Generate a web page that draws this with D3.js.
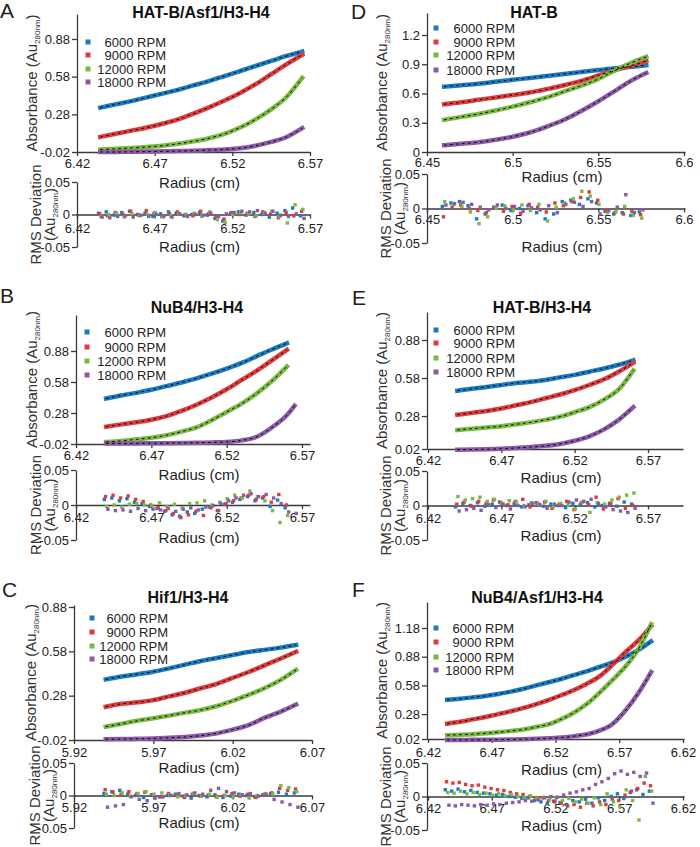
<!DOCTYPE html>
<html>
<head>
<meta charset="utf-8">
<script src="https://cdn.jsdelivr.net/npm/d3@7"></script>
<style>
body{margin:0;background:#fff;}
svg{display:block;font-family:"Liberation Sans",Arial,sans-serif;}
</style>
</head>
<body>
<div id="chart"></div>
<script>
const speeds = ["6000 RPM", "9000 RPM", "12000 RPM", "18000 RPM"]
const colors = ["#1b7bc0", "#de3c3c", "#79b943", "#8b5aa7"]
const residTicks = [-0.05, 0, 0.05]

// A  HAT-B/Asf1/H3-H4
const radiusA = [6.435,6.445,6.455,6.465,6.475,6.485,6.495,6.505,6.515,6.525,6.535,6.545,6.555,6.565]
const absA_6000 = [0.333,0.36,0.385,0.415,0.445,0.475,0.51,0.545,0.585,0.625,0.665,0.705,0.745,0.78]
const absA_9000 = [0.10,0.125,0.15,0.175,0.205,0.24,0.285,0.335,0.39,0.45,0.52,0.60,0.68,0.755]
const absA_12000 = [0.0,0.005,0.012,0.02,0.03,0.045,0.065,0.09,0.125,0.175,0.24,0.32,0.42,0.57]
const absA_18000 = [-0.02,-0.02,-0.018,-0.017,-0.015,-0.013,-0.01,-0.005,0.0,0.01,0.03,0.06,0.10,0.17]
const residRadiusA = [6.435,6.44,6.445,6.45,6.455,6.46,6.465,6.47,6.475,6.48,6.485,6.49,6.495,6.5,6.505,6.51,6.515,6.52,6.525,6.53,6.535,6.54,6.545,6.55,6.555,6.56,6.565]
// residuals in 1e-3 Au
const resA_6000 = [2,4,-1,3,5,0,2,-3,1,4,2,-2,0,3,-1,-6,-10,2,4,-1,3,0,-4,2,6,10,-2]
const resA_9000 = [1,-2,3,0,5,-1,6,2,-3,1,4,0,-2,5,1,-4,-7,3,0,2,-3,4,1,-5,3,-2,5]
const resA_12000 = [-3,0,2,-4,1,-2,0,3,-4,-2,1,0,2,-3,4,-8,-12,0,3,1,-2,2,5,-3,-13,15,8]
const resA_18000 = [-4,-5,-3,-2,-4,-1,-3,0,-2,-4,1,-3,0,-1,2,-3,1,3,5,4,6,2,5,-1,-3,1,-6]
const xTicksA = [6.42,6.47,6.52,6.57]
const yTicksA = [-0.02,0.28,0.58,0.88]

// B  NuB4/H3-H4
const radiusB = [6.44,6.45,6.46,6.47,6.48,6.49,6.5,6.51,6.52,6.53,6.54,6.55,6.56,6.565]
const absB_6000 = [0.42,0.45,0.475,0.505,0.54,0.575,0.615,0.66,0.71,0.765,0.83,0.895,0.955,null]
const absB_9000 = [0.148,0.17,0.19,0.215,0.25,0.30,0.36,0.43,0.51,0.60,0.69,0.79,0.89,null]
const absB_12000 = [0.0,0.01,0.025,0.04,0.065,0.10,0.14,0.21,0.29,0.37,0.47,0.59,0.73,null]
const absB_18000 = [-0.015,-0.015,-0.014,-0.013,-0.012,-0.01,-0.008,-0.005,0.0,0.015,0.05,0.14,0.26,0.35]
const residRadiusB = [6.44,6.445,6.45,6.455,6.46,6.465,6.47,6.475,6.48,6.485,6.49,6.495,6.5,6.505,6.51,6.515,6.52,6.525,6.53,6.535,6.54,6.545,6.55,6.555,6.56,6.565]
const resB_6000 = [8,10,6,9,4,2,-2,-5,-9,-14,-16,-10,-12,-6,-3,-8,1,4,8,12,6,10,-2,7,-4,null]
const resB_9000 = [12,14,10,13,8,5,0,-4,-8,-12,-18,-14,-9,-15,-4,-8,2,6,10,14,8,12,4,15,0,null]
const resB_12000 = [-2,0,-3,1,2,0,-1,3,-2,1,-4,2,3,6,0,4,9,14,10,20,12,6,-8,-25,-15,null]
const resB_18000 = [-6,-8,-7,-9,-5,-8,-6,-7,-5,-9,-6,-4,-7,-3,-1,2,6,10,14,16,12,15,10,2,-10,-12]
const xTicksB = [6.42,6.47,6.52,6.57]
const yTicksB = [-0.02,0.28,0.58,0.88]

// C  Hif1/H3-H4
const radiusC = [5.94,5.95,5.96,5.97,5.98,5.99,6.0,6.01,6.02,6.03,6.04,6.05,6.06]
const absC_6000 = [0.39,0.41,0.425,0.442,0.465,0.49,0.515,0.535,0.555,0.575,0.59,0.605,0.623]
const absC_9000 = [0.205,0.225,0.235,0.25,0.275,0.30,0.33,0.36,0.40,0.44,0.485,0.53,0.577]
const absC_12000 = [0.07,0.09,0.11,0.127,0.145,0.165,0.183,0.21,0.245,0.285,0.33,0.385,0.454]
const absC_18000 = [-0.015,-0.014,-0.012,-0.01,-0.005,0.0,0.01,0.025,0.05,0.08,0.13,0.17,0.22]
const residRadiusC = [5.94,5.945,5.95,5.955,5.96,5.965,5.97,5.975,5.98,5.985,5.99,5.995,6.0,6.005,6.01,6.015,6.02,6.025,6.03,6.035,6.04,6.045,6.05,6.055,6.06]
const resC_6000 = [3,6,8,2,0,-3,1,-2,0,2,-1,-4,0,-2,1,-3,-1,2,0,-2,1,3,5,2,4]
const resC_9000 = [9,5,2,6,3,5,1,-2,3,0,-3,2,-1,1,-2,0,3,-1,2,-3,1,4,11,8,10]
const resC_12000 = [2,0,4,-1,3,6,2,4,1,-2,0,3,-1,2,-3,0,-2,1,-4,0,3,2,15,12,6]
const resC_18000 = [-18,-16,-14,-2,-6,-8,-4,-2,0,3,1,4,2,8,11,6,4,1,3,-1,2,-6,-10,-14,-18]
const xTicksC = [5.92,5.97,6.02,6.07]
const yTicksC = [-0.02,0.28,0.58,0.88]

// D  HAT-B
const radiusD = [6.46,6.47,6.48,6.49,6.5,6.51,6.52,6.53,6.54,6.55,6.56,6.57,6.578]
const absD_6000 = [0.67,0.685,0.70,0.72,0.74,0.76,0.78,0.80,0.82,0.84,0.86,0.875,0.89]
const absD_9000 = [0.49,0.51,0.535,0.56,0.585,0.61,0.645,0.685,0.73,0.785,0.84,0.89,0.935]
const absD_12000 = [0.33,0.36,0.39,0.425,0.465,0.51,0.56,0.62,0.68,0.75,0.84,0.92,0.975]
const absD_18000 = [0.07,0.085,0.10,0.125,0.157,0.20,0.26,0.33,0.42,0.52,0.63,0.74,0.81]
const residRadiusD = [6.46,6.465,6.47,6.475,6.48,6.485,6.49,6.495,6.5,6.505,6.51,6.515,6.52,6.525,6.53,6.535,6.54,6.545,6.55,6.555,6.56,6.565,6.57,6.575]
const resD_6000 = [3,8,10,4,-15,-8,2,5,-3,0,4,-6,-15,-8,10,12,6,14,8,-4,-8,-6,-10,-5]
const resD_9000 = [-12,2,5,0,-3,-6,1,-4,3,-7,6,2,-5,8,4,10,16,24,12,-2,-6,-8,-4,-9]
const resD_12000 = [10,6,3,-5,-22,-12,0,4,-2,5,-3,6,-18,2,8,14,25,18,6,-6,-4,3,-10,-14]
const resD_18000 = [5,7,9,6,2,-2,5,0,3,-4,1,-2,4,-6,6,9,3,10,-8,-3,2,20,-6,-2]
const xTicksD = [6.45,6.5,6.55,6.6]
const yTicksD = [0,0.3,0.6,0.9,1.2]

// E  HAT-B/H3-H4
const radiusE = [6.44,6.45,6.46,6.47,6.48,6.49,6.5,6.51,6.52,6.53,6.54,6.55,6.56]
const absE_6000 = [0.48,0.495,0.51,0.525,0.54,0.55,0.565,0.585,0.605,0.63,0.655,0.685,0.72]
const absE_9000 = [0.29,0.305,0.32,0.34,0.365,0.39,0.42,0.45,0.485,0.525,0.57,0.63,0.70]
const absE_12000 = [0.17,0.18,0.19,0.20,0.215,0.23,0.25,0.275,0.31,0.35,0.41,0.49,0.64]
const absE_18000 = [0.015,0.016,0.018,0.022,0.028,0.035,0.045,0.06,0.085,0.12,0.175,0.25,0.35]
const residRadiusE = [6.44,6.445,6.45,6.455,6.46,6.465,6.47,6.475,6.48,6.485,6.49,6.495,6.5,6.505,6.51,6.515,6.52,6.525,6.53,6.535,6.54,6.545,6.55,6.555,6.56]
const resE_6000 = [-2,3,0,4,-1,2,5,0,3,-2,1,4,-1,2,0,-3,3,1,4,-2,0,3,-1,5,2]
const resE_9000 = [2,5,-1,6,3,8,4,1,6,9,-2,3,5,-4,2,6,-6,4,1,12,-5,3,10,-4,0]
const resE_12000 = [13,8,10,12,6,9,3,7,5,0,4,2,6,-2,3,1,-5,5,-10,4,2,8,12,15,18]
const resE_18000 = [-8,-6,-4,-7,1,-3,2,-5,0,-2,3,1,-4,2,0,5,8,6,9,3,-2,-6,-8,-10,-4]
const xTicksE = [6.42,6.47,6.52,6.57]
const yTicksE = [0.02,0.28,0.58,0.88]

// F  NuB4/Asf1/H3-H4
const radiusF = [6.435,6.445,6.455,6.465,6.475,6.485,6.495,6.505,6.515,6.525,6.535,6.545,6.555,6.565,6.575,6.585,6.595]
const absF_6000 = [0.43,0.44,0.455,0.47,0.49,0.515,0.545,0.58,0.615,0.65,0.69,0.73,0.775,0.82,0.88,0.95,1.04]
const absF_9000 = [0.18,0.20,0.225,0.25,0.28,0.31,0.345,0.385,0.43,0.48,0.535,0.60,0.68,0.80,0.93,1.05,1.20]
const absF_12000 = [0.06,0.065,0.07,0.08,0.09,0.105,0.12,0.145,0.175,0.23,0.30,0.39,0.51,0.64,0.78,0.96,1.22]
const absF_18000 = [0.01,0.01,0.011,0.012,0.013,0.015,0.018,0.022,0.028,0.036,0.05,0.07,0.11,0.18,0.32,0.50,0.72]
const residRadiusF = [6.435,6.44,6.445,6.45,6.455,6.46,6.465,6.47,6.475,6.48,6.485,6.49,6.495,6.5,6.505,6.51,6.515,6.52,6.525,6.53,6.535,6.54,6.545,6.55,6.555,6.56,6.565,6.57,6.575,6.58,6.585,6.59,6.595]
const resF_6000 = [10,8,11,7,9,6,5,4,2,3,0,-1,-3,-2,-6,-8,-10,-7,-9,-12,-6,-8,-4,-10,-2,-6,0,4,-3,6,10,3,8]
const resF_9000 = [22,20,21,18,16,17,14,12,10,9,6,4,3,0,-3,-2,-6,-8,-10,-14,-12,-16,-10,-14,-8,-12,-4,-6,2,8,12,20,16]
const resF_12000 = [6,5,8,4,6,3,5,2,4,1,3,0,-2,1,-3,-1,-4,-2,-6,-3,-8,-4,-10,-2,-12,4,-8,-15,10,-6,-35,30,8]
const resF_18000 = [-13,-14,-12,-13,-14,-12,-13,-11,-12,-10,-9,-8,-6,-7,-5,-2,0,-1,2,5,7,10,12,18,22,27,34,38,33,36,30,35,-10]
const xTicksF = [6.42,6.47,6.52,6.57,6.62]
const yTicksF = [0.02,0.28,0.58,0.88,1.18]

const panels = [
  {letter:"A", title:"HAT-B/Asf1/H3-H4", radius:radiusA, abs:[absA_6000,absA_9000,absA_12000,absA_18000],
   residRadius:residRadiusA, resid:[resA_6000,resA_9000,resA_12000,resA_18000], xTicks:xTicksA, yTicks:yTicksA,
   L:{lx:0, ly:18, tx:201, ty:18, xA:[6.42,6.57], xPx:[77,310], xExt:[77,310], yA:[-0.02,0.88], yPx:[152,39], yExt:[152,14],
      rPx:[247,182], tickC:163, labC:183, rTickC:228, rLabC:247, legX:88, legEnd:166, legY:[42,55,69,82], absX:37, rmsX:41, auX:55}},
  {letter:"B", title:"NuB4/H3-H4", radius:radiusB, abs:[absB_6000,absB_9000,absB_12000,absB_18000],
   residRadius:residRadiusB, resid:[resB_6000,resB_9000,resB_12000,resB_18000], xTicks:xTicksB, yTicks:yTicksB,
   L:{lx:0, ly:303, tx:197, ty:313, xA:[6.42,6.57], xPx:[76,302], xExt:[76,310], yA:[-0.02,0.88], yPx:[444,351], yExt:[444,315],
      rPx:[540,470], tickC:455, labC:475, rTickC:517, rLabC:538, legX:87, legEnd:166, legY:[332,347,361,375], absX:37, rmsX:41, auX:55}},
  {letter:"C", title:"Hif1/H3-H4", radius:radiusC, abs:[absC_6000,absC_9000,absC_12000,absC_18000],
   residRadius:residRadiusC, resid:[resC_6000,resC_9000,resC_12000,resC_18000], xTicks:xTicksC, yTicks:yTicksC,
   L:{lx:2, ly:597, tx:188, ty:603, xA:[5.92,6.07], xPx:[74,312], xExt:[74,312], yA:[-0.02,0.88], yPx:[740,607], yExt:[740,605],
      rPx:[828,763], tickC:752, labC:768, rTickC:807, rLabC:823, legX:92, legEnd:168, legY:[618,632,646,659], absX:36, rmsX:40, auX:54}},
  {letter:"D", title:"HAT-B", radius:radiusD, abs:[absD_6000,absD_9000,absD_12000,absD_18000],
   residRadius:residRadiusD, resid:[resD_6000,resD_9000,resD_12000,resD_18000], xTicks:xTicksD, yTicks:yTicksD,
   L:{lx:351, ly:19, tx:534, ty:18, xA:[6.45,6.6], xPx:[427,684], xExt:[427,685], yA:[0,1.2], yPx:[152,35], yExt:[152,13],
      rPx:[243,174], tickC:162, labC:177, rTickC:219, rLabC:247, legX:436, legEnd:515, legY:[28,42,55,70], absX:387, rmsX:391, auX:405}},
  {letter:"E", title:"HAT-B/H3-H4", radius:radiusE, abs:[absE_6000,absE_9000,absE_12000,absE_18000],
   residRadius:residRadiusE, resid:[resE_6000,resE_9000,resE_12000,resE_18000], xTicks:xTicksE, yTicks:yTicksE,
   L:{lx:352, ly:305, tx:542, ty:313, xA:[6.42,6.57], xPx:[428,648], xExt:[427,683], yA:[0.02,0.88], yPx:[449,340], yExt:[449,312],
      rPx:[540,471], tickC:460, labC:478, rTickC:518, rLabC:536, legX:436, legEnd:515, legY:[330,343,358,372], absX:387, rmsX:391, auX:405}},
  {letter:"F", title:"NuB4/Asf1/H3-H4", radius:radiusF, abs:[absF_6000,absF_9000,absF_12000,absF_18000],
   residRadius:residRadiusF, resid:[resF_6000,resF_9000,resF_12000,resF_18000], xTicks:xTicksF, yTicks:yTicksF,
   L:{lx:352, ly:597, tx:537, ty:603, xA:[6.42,6.62], xPx:[428,683], xExt:[427,684], yA:[0.02,1.18], yPx:[739,628], yExt:[739,602],
      rPx:[830,763], tickC:752, labC:770, rTickC:808, rLabC:826, legX:436, legEnd:514, legY:[628,642,657,670], absX:387, rmsX:391, auX:405}}
]

const svg = d3.select("#chart").append("svg")
    .attr("width", 700)
    .attr("height", 847)

function styleAxis(sel){
    sel.attr("font-size", 13).attr("font-family", null)
    sel.selectAll("path, line").attr("stroke", "#3a3a3a").attr("stroke-width", 1.3)
    sel.selectAll("text").attr("fill", "#222")
}

function drawPanel(p){
    const L = p.L
    const g = svg.append("g")

    // scales (anchored on two ticks, stretched to the axis extent)
    const x = d3.scaleLinear().domain(L.xA).range(L.xPx)
    x.domain([x.invert(L.xExt[0]), x.invert(L.xExt[1])]).range(L.xExt)
    const y = d3.scaleLinear().domain(L.yA).range(L.yPx)
    y.domain([y.invert(L.yExt[0]), y.invert(L.yExt[1])]).range(L.yExt)
    const yr = d3.scaleLinear().domain([-0.05, 0.05]).range(L.rPx)
    const dodge = d3.scalePoint().domain(speeds).range([-1.8, 1.8])

    // panel letter + title
    g.append("text").attr("x", L.lx).attr("y", L.ly).attr("font-size", 21).attr("fill", "#222").text(p.letter)
    g.append("text").attr("x", L.tx).attr("y", L.ty).attr("text-anchor", "middle")
        .attr("font-size", 16).attr("font-weight", "bold").attr("fill", "#111").text(p.title)

    //Ejes principales
    const tick = 4
    g.append("g").attr("transform", `translate(0,${L.yExt[0]})`)
        .call(d3.axisBottom(x).tickValues(p.xTicks).tickFormat(String).tickSize(tick).tickSizeOuter(0)
            .tickPadding(L.tickC - L.yExt[0] - tick - 4.5))
        .call(styleAxis)
    g.append("g").attr("transform", `translate(${L.xExt[0]},0)`)
        .call(d3.axisLeft(y).tickValues(p.yTicks).tickFormat(String).tickSize(5).tickSizeOuter(0).tickPadding(2))
        .call(styleAxis)

    g.append("text").attr("x", (L.xExt[0] + L.xExt[1]) / 2 + 6).attr("y", L.labC + 5.3)
        .attr("text-anchor", "middle").attr("font-size", 15).attr("fill", "#222").text("Radius (cm)")

    const yl = g.append("text")
        .attr("transform", `translate(${L.absX},${(L.yExt[0] + L.yExt[1]) / 2}) rotate(-90)`)
        .attr("text-anchor", "middle").attr("font-size", 15).attr("fill", "#333")
    yl.append("tspan").text("Absorbance (Au")
    yl.append("tspan").attr("font-size", 8).attr("dy", 3).text("280nm")
    yl.append("tspan").attr("dy", -3).text(")")

    // data bands + fits
    p.abs.forEach((vals, i) => {
        const pts = p.radius.map((r, k) => ({r: r, v: vals[k]})).filter(d => d.v != null)
        const line = d3.line().x(d => x(d.r)).y(d => y(d.v)).curve(d3.curveMonotoneX)
        g.append("path").attr("d", line(pts)).attr("fill", "none")
            .attr("stroke", colors[i]).attr("stroke-width", 4.5).attr("stroke-linecap", "square")
    })
    p.abs.forEach((vals, i) => {
        const pts = p.radius.map((r, k) => ({r: r, v: vals[k]})).filter(d => d.v != null)
        const line = d3.line().x(d => x(d.r)).y(d => y(d.v)).curve(d3.curveMonotoneX)
        g.append("path").attr("d", line(pts)).attr("fill", "none")
            .attr("stroke", "#000").attr("stroke-width", 1).attr("stroke-dasharray", "2.5,3.5")
    })

    // legend
    speeds.forEach((s, i) => {
        g.append("rect").attr("x", L.legX - 2.5).attr("y", L.legY[i] - 2.5).attr("width", 5).attr("height", 5).attr("fill", colors[i])
        g.append("text").attr("x", L.legEnd).attr("y", L.legY[i] + 4.6).attr("text-anchor", "end")
            .attr("font-size", 13).attr("fill", "#222").text(s)
    })

    //Residuales
    const r0 = yr(0)
    g.append("g").attr("transform", `translate(0,${r0})`)
        .call(d3.axisBottom(x).tickValues(p.xTicks).tickFormat(String).tickSize(tick).tickSizeOuter(0)
            .tickPadding(L.rTickC - r0 - tick - 4.5))
        .call(styleAxis)
    g.append("g").attr("transform", `translate(${L.xExt[0]},0)`)
        .call(d3.axisLeft(yr).tickValues(residTicks).tickFormat(String).tickSize(5).tickSizeOuter(0).tickPadding(2))
        .call(styleAxis)

    g.append("text").attr("x", (L.xExt[0] + L.xExt[1]) / 2 + 6).attr("y", L.rLabC + 5.3)
        .attr("text-anchor", "middle").attr("font-size", 15).attr("fill", "#222").text("Radius (cm)")

    const rc = (L.rPx[0] + L.rPx[1]) / 2
    g.append("text").attr("transform", `translate(${L.rmsX},${rc}) rotate(-90)`)
        .attr("text-anchor", "middle").attr("font-size", 15).attr("fill", "#333").text("RMS Deviation")
    const al = g.append("text").attr("transform", `translate(${L.auX},${rc}) rotate(-90)`)
        .attr("text-anchor", "middle").attr("font-size", 15).attr("fill", "#333")
    al.append("tspan").text("(Au")
    al.append("tspan").attr("font-size", 8).attr("dy", 3).text("280nm")
    al.append("tspan").attr("dy", -3).text(")")

    p.resid.forEach((vals, i) => {
        const pts = p.residRadius.map((r, k) => ({r: r, v: vals[k]})).filter(d => d.v != null)
        g.selectAll(null).data(pts).enter().append("rect")
            .attr("x", d => x(d.r) + dodge(speeds[i]) - 1.7)
            .attr("y", d => yr(d.v / 1000) - 1.7)
            .attr("width", 3.4).attr("height", 3.4)
            .attr("fill", colors[i])
    })
}

panels.forEach(drawPanel)
</script>
</body>
</html>
